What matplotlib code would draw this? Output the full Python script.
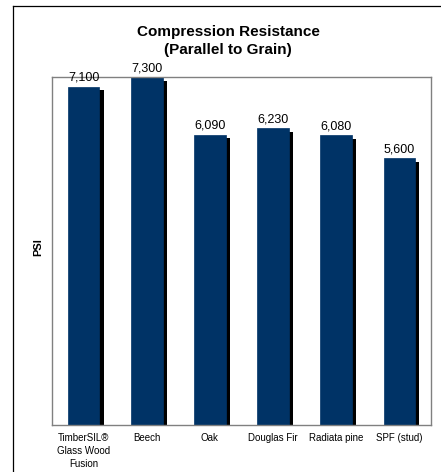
import matplotlib.pyplot as plt
import matplotlib.patheffects as pe
from matplotlib.lines import Line2D

plt.rcParams['font.family'] = ['Liberation Sans', 'DejaVu Sans']

species = ["TimberSIL®\nGlass Wood\nFusion", "Beech", "Oak", "Douglas Fir", "Radiata pine", "SPF (stud)"]
psi = [7100, 7300, 6090, 6230, 6080, 5600]

fig = plt.figure(figsize=(4.41, 4.72), dpi=100)
ax = fig.add_axes([0.118, 0.0996, 0.859, 0.737])

# dark blue bars with a hard black drop shadow
bars = ax.bar(range(len(species)), psi, width=0.5, color="#003366",
              edgecolor="#003366", linewidth=0.5)
for b in bars:
    b.set_path_effects([pe.SimplePatchShadow(offset=(3, -2.5), shadow_rgbFace="black", alpha=1.0),
                        pe.Normal()])

for i, v in enumerate(psi):
    ax.text(i, v + 60, f"{v:,}", ha="center", va="bottom", fontsize=9)

ax.set_xlim(-0.5, len(species) - 0.5)
ax.set_ylim(0, 7300)
ax.set_xticks(range(len(species)))
ax.set_xticklabels(species, fontsize=7, linespacing=1.35)
ax.tick_params(axis="x", length=0, pad=6)
ax.set_yticks([])
for s in ax.spines.values():
    s.set_color("#808080")
    s.set_linewidth(1.0)

fig.text(38 / 441, 1 - 247 / 472, "PSI", rotation=90, ha="center", va="center",
         fontsize=8, fontweight="bold")
fig.text(228 / 441, 1 - 41 / 472, "Compression Resistance\n(Parallel to Grain)",
         ha="center", va="center", fontsize=11, fontweight="bold", linespacing=1.3)

# outer chart frame
fig.add_artist(Line2D([13 / 441, 13 / 441], [0, 1 - 6 / 472], color="black", linewidth=0.9))
fig.add_artist(Line2D([13 / 441, 1], [1 - 6 / 472, 1 - 6 / 472], color="black", linewidth=0.9))

fig.savefig("out.png", dpi=100)
